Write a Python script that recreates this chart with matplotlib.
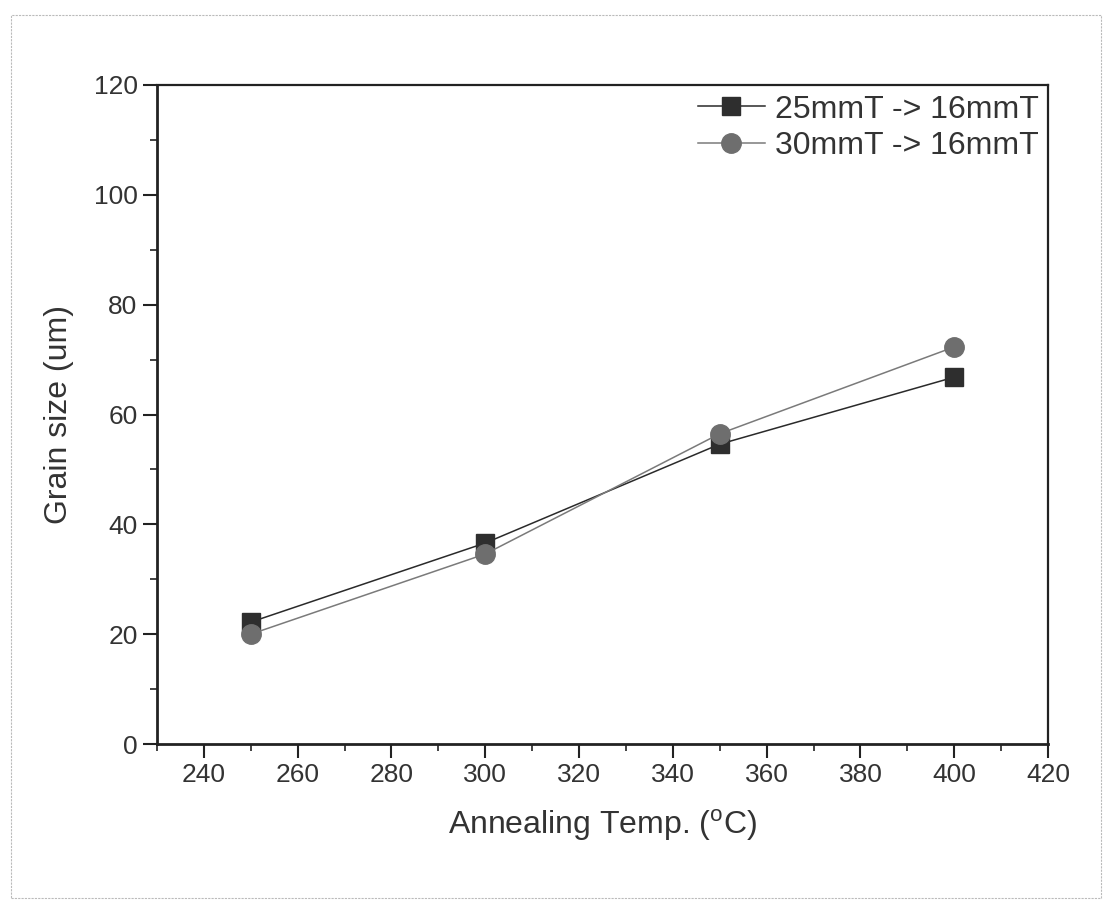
import matplotlib
matplotlib.use("Agg")
import matplotlib.pyplot as plt
from matplotlib.ticker import MultipleLocator
from matplotlib.patches import Rectangle

plt.rcParams["font.family"] = ["Liberation Sans", "DejaVu Sans"]

# Data
temps = [250, 300, 350, 400]
grain_25 = [22.2, 36.6, 54.6, 66.8]
grain_30 = [20.0, 34.6, 56.5, 72.3]
labels = ["25mmT -> 16mmT", "30mmT -> 16mmT"]

fig = plt.figure(figsize=(11.18, 9.10), dpi=100)
ax = fig.add_axes([0.1404, 0.1824, 0.7970, 0.7242])

ax.plot(temps, grain_25, color="#2a2a2a", linewidth=1.1, marker="s",
        markersize=13, markerfacecolor="#2e2e2e", markeredgecolor="#2e2e2e",
        label=labels[0], zorder=3)
ax.plot(temps, grain_30, color="#7a7a7a", linewidth=1.1, marker="o",
        markersize=14, markerfacecolor="#6e6e6e", markeredgecolor="#6e6e6e",
        label=labels[1], zorder=4)

ax.set_xlim(230, 420)
ax.set_ylim(0, 120)
ax.xaxis.set_major_locator(MultipleLocator(20))
ax.xaxis.set_minor_locator(MultipleLocator(10))
ax.yaxis.set_major_locator(MultipleLocator(20))
ax.yaxis.set_minor_locator(MultipleLocator(10))
ax.tick_params(which="major", direction="out", length=10, width=1.5,
               labelsize=19, colors="#222222", pad=4)
ax.tick_params(which="minor", direction="out", length=5, width=1.2, colors="#222222")
ax.tick_params(axis="both", labelcolor="#333333")

for side in ["left", "bottom"]:
    ax.spines[side].set_linewidth(2)
    ax.spines[side].set_color("#222222")
for side in ["top", "right"]:
    ax.spines[side].set_linewidth(1.6)
    ax.spines[side].set_color("#222222")

ax.set_xlabel("Annealing Temp. ($^{\\mathregular{o}}$C)", fontsize=23,
              color="#333333", labelpad=14)
ax.set_ylabel("Grain size (um)", fontsize=23, color="#333333", labelpad=14)

leg = ax.legend(loc="upper right", fontsize=23, frameon=False,
                handlelength=2.1, handletextpad=0.3, labelspacing=0.2,
                borderaxespad=0.1, borderpad=0.2)
for t in leg.get_texts():
    t.set_color("#333333")

# light dotted frame around the figure, like the scanned page
fig.patches.append(Rectangle((0.010, 0.013), 0.975, 0.970, transform=fig.transFigure,
                             fill=False, edgecolor="#bbbbbb", linewidth=0.8,
                             linestyle=(0, (2, 1))))

fig.savefig("out.png", dpi=100)
